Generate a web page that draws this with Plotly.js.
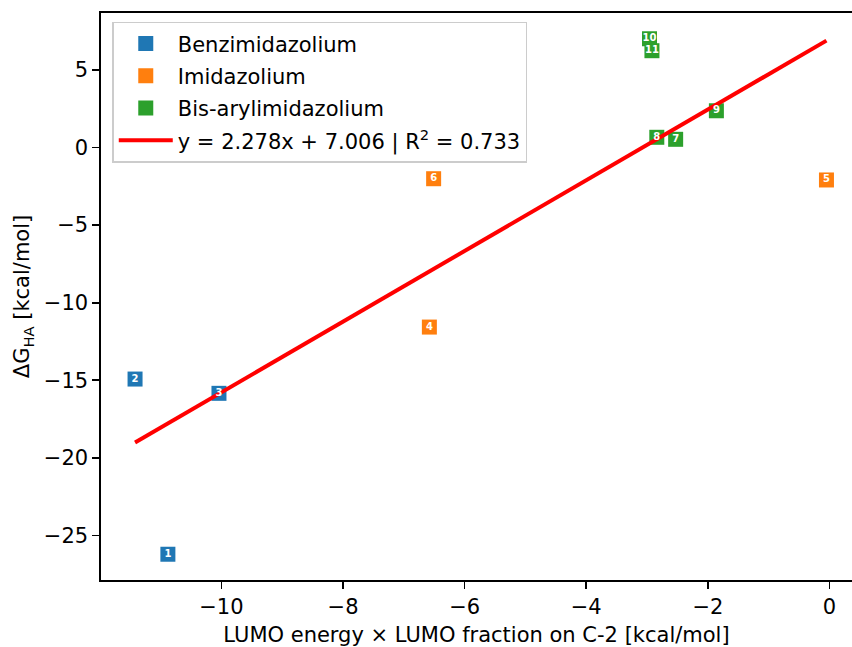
<!DOCTYPE html>
<html>
<head>
<meta charset="utf-8">
<script src="https://cdn.plot.ly/plotly-3.0.1.min.js"></script>
<style>html,body{margin:0;padding:0;background:#fff;}#chart{width:852px;height:647px;}</style>
</head>
<body>
<div id="chart"></div>
<script>
// Data
const benzX = [-10.88, -11.42, -10.04];
const benzY = [-26.21, -14.92, -15.84];
const benzLabels = ['1', '2', '3'];

const imidX = [-6.58, -0.05, -6.51];
const imidY = [-11.57, -2.09, -2.01];
const imidLabels = ['4', '5', '6'];

const bisX = [-2.53, -2.84, -1.86, -2.96, -2.92];
const bisY = [0.53, 0.66, 2.37, 7.01, 6.24];
const bisLabels = ['7', '8', '9', '10', '11'];

const fitX = [-11.42, -0.05];
const fitY = [-19.01, 6.89];
const fitLabel = 'y = 2.278x + 7.006 | R<sup>2</sup> = 0.733';

const seriesNames = ['Benzimidazolium', 'Imidazolium', 'Bis-arylimidazolium'];
const colors = ['#1f77b4', '#ff7f0e', '#2ca02c'];

const FONT = 'DejaVu Sans, sans-serif';
const groups = [[benzX, benzY, benzLabels], [imidX, imidY, imidLabels], [bisX, bisY, bisLabels]];

const traces = [];
groups.forEach((g, i) => {
  traces.push({
    type: 'scatter', mode: 'markers', x: g[0], y: g[1], name: seriesNames[i],
    legendgroup: 'g' + i, hoverinfo: 'skip',
    marker: {symbol: 'square', size: 15, color: colors[i], line: {width: 0}}
  });
});
traces.push({
  type: 'scatter', mode: 'lines', x: fitX, y: fitY, name: fitLabel,
  legendgroup: 'fit', line: {color: '#ff0000', width: 4}
});
groups.forEach((g, i) => {
  traces.push({
    type: 'scatter', mode: 'text', x: g[0], y: g[1], text: g[2], showlegend: false,
    textposition: 'middle center', hoverinfo: 'skip',
    textfont: {family: FONT, size: 10, color: '#ffffff', weight: 'bold'}
  });
});

const layout = {
  width: 852, height: 647,
  margin: {l: 101, r: 0, t: 13, b: 67, pad: 0},
  paper_bgcolor: '#ffffff', plot_bgcolor: '#ffffff',
  font: {family: FONT, size: 21, color: '#000000'},
  showlegend: true,
  legend: {
    x: 0.015, y: 0.9845, xanchor: 'left', yanchor: 'top',
    bgcolor: 'rgba(255,255,255,0.8)', bordercolor: '#cccccc', borderwidth: 1.5,
    font: {family: FONT, size: 21, color: '#000000'},
    tracegroupgap: 2, itemwidth: 54
  },
  xaxis: {
    range: [-11.98, 0.37], showgrid: false, zeroline: false,
    showline: true, linecolor: '#000000', linewidth: 1.6, mirror: true,
    ticks: 'outside', ticklen: 7, tickwidth: 1.6, tickcolor: '#000000',
    tickvals: [-10, -8, -6, -4, -2, 0],
    ticktext: ['\u221210', '\u22128', '\u22126', '\u22124', '\u22122', '0'],
    tickfont: {family: FONT, size: 21},
    title: {text: 'LUMO energy \u00d7 LUMO fraction on C-2 [kcal/mol]', font: {family: FONT, size: 21}, standoff: 11}
  },
  yaxis: {
    range: [-27.87, 8.67], showgrid: false, zeroline: false,
    showline: true, linecolor: '#000000', linewidth: 1.6, mirror: false,
    ticks: 'outside', ticklen: 7, tickwidth: 1.6, tickcolor: '#000000',
    tickvals: [5, 0, -5, -10, -15, -20, -25],
    ticktext: ['5', '0', '\u22125', '\u221210', '\u221215', '\u221220', '\u221225'],
    tickfont: {family: FONT, size: 21},
    title: {text: '\u0394G<sub>HA</sub> [kcal/mol]', font: {family: FONT, size: 21}, standoff: 8}
  }
};

Plotly.newPlot('chart', traces, layout, {displayModeBar: false, staticPlot: true});
</script>
</body>
</html>
